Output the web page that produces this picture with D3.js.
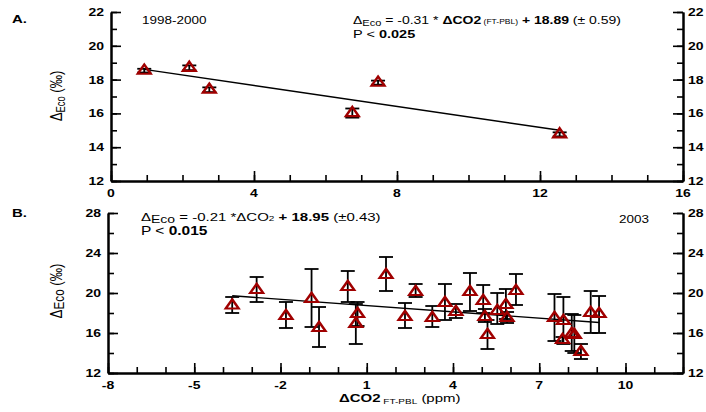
<!DOCTYPE html>
<html><head><meta charset="utf-8">
<script src="https://cdn.jsdelivr.net/npm/d3@7"></script>
<style>
body{margin:0;background:#fff;}
svg{display:block;font-family:"Liberation Sans",Arial,sans-serif;}
</style></head>
<body><svg id="c" width="706" height="412"></svg>
<script>
// ---- Panel A data (1998-2000)
const aX = [0.93, 2.19, 2.75, 6.75, 7.47, 12.55];
const aY = [18.53, 18.70, 17.40, 16.02, 17.82, 14.76];
const aErr = [0.11, 0.14, 0.14, 0.27, 0.12, 0.12];
const aSlope = -0.31, aIntercept = 18.89;
const aXTicks = [0, 4, 8, 12, 16];
const aYTicks = [12, 14, 16, 18, 20, 22];

// ---- Panel B data (2003)
const bX  = [-3.68,-2.83,-1.81,-0.92,-0.66,0.34,0.68,0.62,1.67,2.33,2.70,3.28,3.72,4.10,4.59,5.05,5.11,5.20,5.54,5.84,5.88,6.19,7.53,7.84,7.81,8.13,8.22,8.45,8.79,9.08];
const bY  = [18.75,20.3,17.7,19.4,16.5,20.6,17.9,16.9,21.8,17.6,20.1,17.5,19.0,18.1,20.1,19.2,17.6,15.8,18.2,18.8,17.5,20.2,17.5,17.2,15.3,15.9,15.8,14.1,18.0,17.9];
const bHi = [19.6,21.6,19.1,22.4,18.6,22.2,19.1,18.9,23.6,19.0,20.9,18.7,20.9,18.9,22.0,20.8,18.4,17.3,20.0,20.4,18.1,21.9,19.9,19.6,15.6,17.9,17.8,14.9,20.2,19.7];
const bLo = [18.0,19.1,16.5,16.6,14.6,19.1,16.7,14.9,20.2,16.5,19.6,16.6,17.3,17.5,18.2,18.0,17.1,14.4,16.9,17.4,17.0,18.8,15.2,14.9,15.0,14.2,14.0,13.4,16.0,16.0];
const bSlope = -0.21, bIntercept = 18.95;
const bXTicks = [-8, -5, -2, 1, 4, 7, 10];
const bYTicks = [12, 16, 20, 24, 28];

const svg = d3.select("#c");
const RED = "#a00000";
const SQ = 0.78; // vertical squash of the reference artwork

// rich text made of separate pieces laid out side by side
function rich(x, y, parts, opts={}){
  const g = svg.append("g").attr("transform", `translate(${x},${y}) scale(1,${SQ})` + (opts.rotate ? ` rotate(${opts.rotate})` : ""));
  let cur = 0;
  const els = [];
  parts.forEach(p=>{
    const t = g.append("text").attr("x",cur).attr("y",p.dy||0).attr("fill","#000")
      .attr("font-size",p.s||opts.size||13).text(p.t);
    if(p.b) t.attr("font-weight","bold");
    t.style("white-space","pre");
    cur += t.node().getComputedTextLength();
    els.push(t);
  });
  let shift = 0;
  if(opts.anchor==="middle") shift = -cur/2;
  if(opts.anchor==="end") shift = -cur;
  if(shift) els.forEach(t=>t.attr("x", +t.attr("x")+shift));
  return g;
}

function panel(o){
  const g = svg.append("g");
  const x = d3.scaleLinear().domain(o.xd).range(o.xr);
  const y = d3.scaleLinear().domain(o.yd).range(o.yr);
  const axStyle = sel => {
    sel.selectAll(".domain").attr("stroke","#000").attr("stroke-width",2);
    sel.selectAll(".tick line").attr("stroke","#000").attr("stroke-width",1.6);
  };
  const mk = (axis, tr, ticks, size) => {
    const a = axis.tickValues(ticks).tickSizeInner(size).tickSizeOuter(0).tickFormat("");
    g.append("g").attr("transform", tr).call(a).call(axStyle);
  };
  const yb = o.yr[0];
  mk(d3.axisBottom(x), `translate(0,${yb})`, o.xMinor, -6);
  mk(d3.axisBottom(x), `translate(0,${yb})`, o.xMajor, -10);
  mk(d3.axisLeft(y), `translate(${o.xr[0]},0)`, o.yMinor, -6);
  mk(d3.axisLeft(y), `translate(${o.xr[0]},0)`, o.yMajor, -10);
  mk(d3.axisRight(y), `translate(${o.xr[1]},0)`, o.yMinor, -6);
  mk(d3.axisRight(y), `translate(${o.xr[1]},0)`, o.yMajor, -10);

  // tick labels placed with the scales
  o.xMajor.forEach(v=>rich(x(v), yb+o.xLabOff, [{t:String(v), b:1}], {size:14, anchor:"middle"}));
  o.yMajor.forEach(v=>{
    rich(o.xr[0]-7, y(v)+4, [{t:String(v), b:1}], {size:14, anchor:"end"});
    rich(o.xr[1]+5, y(v)+4, [{t:String(v), b:1}], {size:14});
  });

  // regression line
  const x0 = d3.min(o.px), x1 = d3.max(o.px);
  g.append("line").attr("x1",x(x0)).attr("y1",y(o.slope*x0+o.int))
    .attr("x2",x(x1)).attr("y2",y(o.slope*x1+o.int))
    .attr("stroke","#000").attr("stroke-width",1.4);

  // error bars
  const cap = 7;
  o.px.forEach((xv,i)=>{
    const cx = x(xv), hi = y(o.hi[i]), lo = y(o.lo[i]);
    g.append("line").attr("x1",cx).attr("x2",cx).attr("y1",hi).attr("y2",lo).attr("stroke","#000").attr("stroke-width",1.8);
    [hi,lo].forEach(v=>g.append("line").attr("x1",cx-cap).attr("x2",cx+cap).attr("y1",v).attr("y2",v).attr("stroke","#000").attr("stroke-width",1.8));
  });
  // markers
  const sym = d3.symbol(d3.symbolTriangle).size(72);
  o.px.forEach((xv,i)=>{
    g.append("path").attr("d",sym()).attr("transform",`translate(${x(xv)},${y(o.py[i])}) scale(1,0.82)`)
      .attr("fill","none").attr("stroke",RED).attr("stroke-width",2.6).attr("stroke-linejoin","miter");
  });
  return {x,y};
}

const range = (a,b,s)=>d3.range(a,b+1e-9,s);

panel({xd:[0,16], xr:[111,683], yd:[12,22], yr:[181,12], xLabOff:16,
  xMinor: range(0,16,1), xMajor: aXTicks, yMinor: range(12,22,1), yMajor: aYTicks,
  px:aX, py:aY, hi:aY.map((v,i)=>v+aErr[i]), lo:aY.map((v,i)=>v-aErr[i]),
  slope:aSlope, int:aIntercept});

panel({xd:[-8,12], xr:[108,683], yd:[12,28], yr:[373,213], xLabOff:15.5,
  xMinor: range(-8,12,1), xMajor: bXTicks, yMinor: range(12,28,2), yMajor: bYTicks,
  px:bX, py:bY, hi:bHi, lo:bLo, slope:bSlope, int:bIntercept});

// ---- texts
rich(12,23,[{t:"A.",b:1}],{size:15});
rich(12,217,[{t:"B.",b:1}],{size:15});
rich(142,24,[{t:"1998-2000"}],{size:13.5});
rich(619,223,[{t:"2003"}],{size:13.5});

rich(353,24,[{t:"Δ"},{t:"Eco",s:11,dy:3},{t:" = -0.31 * "},{t:"ΔCO2",b:1},{t:" (FT-PBL)",s:8.5},{t:" + 18.89",b:1},{t:" (± 0.59)"}],{size:14});
rich(353,38,[{t:"P < "},{t:"0.025",b:1}],{size:14.5});

rich(141,221,[{t:"Δ"},{t:"Eco",s:14,dy:2},{t:" = -0.21 *ΔCO"},{t:"2",s:10},{t:" + ",b:1},{t:"18.95",b:1},{t:" (±0.43)"}],{size:15});
rich(141,235,[{t:"P < "},{t:"0.015",b:1}],{size:15.5});

rich(62,96,[{t:"Δ",s:17},{t:"Eco",s:12,dy:3},{t:" (‰)",s:17}],{anchor:"middle",rotate:-90});
rich(62,291,[{t:"Δ",s:17},{t:"Eco",s:15,dy:2},{t:" (‰)",s:17}],{anchor:"middle",rotate:-90});

rich(339,402,[{t:"ΔCO2",b:1},{t:" FT-PBL",s:10,dy:2},{t:" (ppm)"}],{size:15});
</script>
</body></html>
